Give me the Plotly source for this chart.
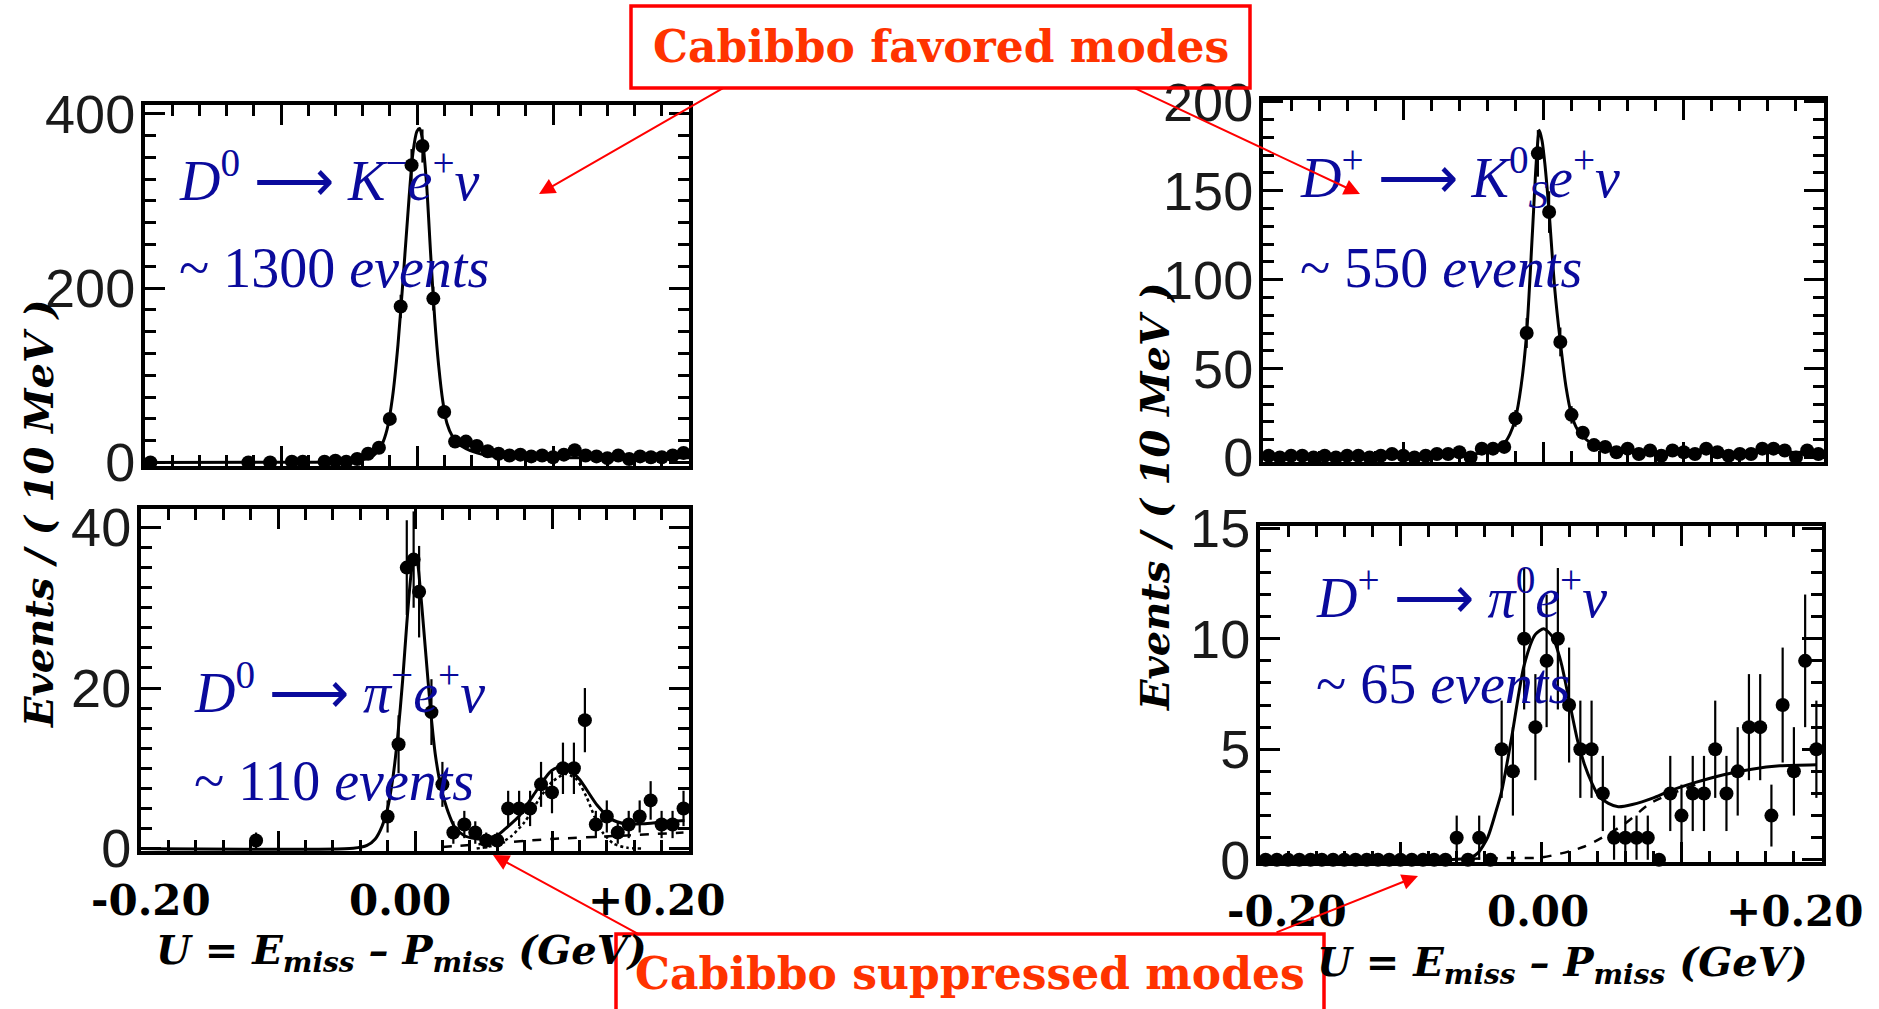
import plotly.graph_objects as go

W, H = 1879, 1009

# ---------------- data ----------------
# Top-left: D0 -> K- e+ nu
tl_x = [-0.196, -0.124, -0.108, -0.092, -0.084, -0.068, -0.060, -0.052, -0.044, -0.036,
        -0.028, -0.020, -0.012, -0.004, 0.004, 0.012, 0.020, 0.028, 0.036, 0.044, 0.052,
        0.060, 0.068, 0.076, 0.084, 0.092, 0.100, 0.108, 0.116, 0.124, 0.132, 0.140,
        0.148, 0.156, 0.164, 0.172, 0.180, 0.188, 0.196]
tl_y = [0, 0, 0, 1, 1, 1, 2, 1, 4, 10, 17, 50, 179, 341, 363, 188, 58, 24, 24, 19, 13,
        10, 8, 9, 7, 8, 6, 9, 14, 8, 7, 5, 8, 4, 7, 6, 6, 8, 11]
tl_err = [0, 0, 0, 1, 1, 1, 1.4, 1, 2, 3.2, 4.1, 7.1, 13.4, 18.5, 19, 13.7, 7.6, 4.9, 4.9, 4.4, 3.6,
          3.2, 2.8, 3, 2.6, 2.8, 2.4, 3, 3.7, 2.8, 2.6, 2.2, 2.8, 2, 2.6, 2.4, 2.4, 2.8, 3.3]
tl_fit_x = [-0.2, -0.08, -0.05, -0.04, -0.032, -0.026, -0.022, -0.018, -0.014, -0.010, -0.006,
            -0.003, 0.0, 0.002, 0.004, 0.007, 0.010, 0.013, 0.016, 0.019, 0.022, 0.026, 0.030,
            0.036, 0.044, 0.052, 0.065, 0.09, 0.2]
tl_fit_y = [0, 0.3, 1.5, 3, 8, 20, 38, 75, 135, 215, 300, 355, 380, 383, 370, 320, 240, 165,
            110, 70, 45, 30, 22, 16, 11, 8, 6, 5.5, 5.5]

# Bottom-left: D0 -> pi- e+ nu
bl_x = [-0.116, -0.020, -0.012, -0.006, -0.001, 0.003, 0.012, 0.020, 0.028, 0.036, 0.044,
        0.052, 0.060, 0.068, 0.076, 0.084, 0.092, 0.100, 0.108, 0.116, 0.124, 0.132, 0.140,
        0.148, 0.156, 0.164, 0.172, 0.180, 0.188, 0.196]
bl_y = [1, 4, 13, 35, 36, 32, 17, 8, 2, 3, 2, 1, 1, 5, 5, 5, 8, 7, 10, 10, 16, 3, 4, 2, 3,
        4, 6, 3, 3, 5]
bl_err = [1, 2, 3.6, 5.9, 6, 5.7, 4.1, 2.8, 1.4, 1.7, 1.4, 1, 1, 2.2, 2.2, 2.2, 2.8, 2.6, 3.2,
          3.2, 4, 1.7, 2, 1.4, 1.7, 2, 2.4, 1.7, 1.7, 2.2]
bl_fit_x = [-0.2, -0.045, -0.035, -0.029, -0.024, -0.020, -0.016, -0.0126, -0.009, -0.006,
            -0.003, -0.001, 0.001, 0.004, 0.008, 0.0115, 0.015, 0.0192, 0.0243, 0.0293, 0.036,
            0.046, 0.0594, 0.0661, 0.0762, 0.0862, 0.0996, 0.1096, 0.1197, 0.133, 0.143,
            0.153, 0.1665, 0.18, 0.1967]
bl_fit_y = [0, 0.05, 0.4, 1.2, 2.8, 5, 9, 14, 21, 28, 34, 36.5, 36.3, 32, 24, 17, 11.5, 7.5,
            4.5, 2.6, 1.6, 1.2, 1.6, 2.5, 4.1, 6.6, 9.7, 10.3, 8.7, 5.4, 3.7, 3.1, 3.1, 3.3, 3.5]
bl_dot_x = [0.045, 0.06, 0.07, 0.08, 0.09, 0.10, 0.11, 0.118, 0.125, 0.131, 0.137, 0.145,
            0.155, 0.165]
bl_dot_y = [0.0, 0.5, 1.5, 3.3, 6.0, 8.3, 9.3, 8.6, 6.5, 4.0, 2.0, 0.6, 0.1, 0.0]
bl_bkg_x = [0.02, 0.06, 0.10, 0.15, 0.196]
bl_bkg_y = [0.2, 0.7, 1.2, 1.6, 2.0]

# Shared binning for the D+ panels
dp_x = [-0.196, -0.188, -0.180, -0.172, -0.164, -0.156, -0.148, -0.140, -0.132, -0.124,
        -0.116, -0.108, -0.100, -0.092, -0.084, -0.076, -0.068, -0.060, -0.052, -0.044,
        -0.036, -0.028, -0.020, -0.012, -0.004, 0.004, 0.012, 0.020, 0.028, 0.036, 0.044,
        0.052, 0.060, 0.068, 0.076, 0.084, 0.092, 0.100, 0.108, 0.116, 0.124, 0.132, 0.140,
        0.148, 0.156, 0.164, 0.172, 0.180, 0.188, 0.196]

# Top-right: D+ -> KS0 e+ nu
tr_y = [1, 0, 1, 1, 0, 1, 0, 1, 1, 0, 1, 2, 1, 0, 1, 2, 2, 3, 0, 5, 5, 6, 22, 70, 171, 138,
        65, 24, 14, 7, 6, 3, 5, 2, 4, 1, 4, 3, 2, 5, 3, 1, 2, 2, 5, 5, 4, 0, 4, 2]
tr_err = [1, 0, 1, 1, 0, 1, 0, 1, 1, 0, 1, 1.4, 1, 0, 1, 1.4, 1.4, 1.7, 0, 2.2, 2.2, 2.4, 4.7,
          8.4, 13.1, 11.7, 8.1, 4.9, 3.7, 2.6, 2.4, 1.7, 2.2, 1.4, 2, 1, 2, 1.7, 1.4, 2.2, 1.7,
          1, 1.4, 1.4, 2.2, 2.2, 2, 0, 2, 1.4]
tr_fit_x = [-0.2, -0.1, -0.06, -0.045, -0.035, -0.028, -0.024, -0.020, -0.016, -0.012, -0.008,
            -0.005, -0.003, -0.001, 0.001, 0.004, 0.008, 0.012, 0.016, 0.020, 0.024, 0.028,
            0.034, 0.040, 0.050, 0.070, 0.2]
tr_fit_y = [0.8, 1.0, 1.5, 2.5, 4.5, 8, 13, 22, 40, 70, 125, 168, 184, 178, 165, 138, 95, 65,
            40, 24, 16, 12, 8, 5.5, 3.8, 3.0, 3.0]

# Bottom-right: D+ -> pi0 e+ nu
br_y = [0, 0, 0, 0, 0, 0, 0, 0, 0, 0, 0, 0, 0, 0, 0, 0, 0, 1, 0, 1, 0, 5, 4, 10, 6, 9, 10, 7,
        5, 5, 3, 1, 1, 1, 1, 0, 3, 2, 3, 3, 5, 3, 4, 6, 6, 2, 7, 4, 9, 5]
br_err = [0, 0, 0, 0, 0, 0, 0, 0, 0, 0, 0, 0, 0, 0, 0, 0, 0, 1, 0, 1, 0, 2.2, 2, 3.2, 2.4, 3,
          3.2, 2.6, 2.2, 2.2, 1.7, 1, 1, 1, 1, 0, 1.7, 1.4, 1.7, 1.7, 2.2, 1.7, 2, 2.4, 2.4,
          1.4, 2.6, 2, 3, 2.2]
br_fit_x = [-0.2, -0.06, -0.05, -0.045, -0.038, -0.032, -0.028, -0.021, -0.012, -0.004, 0.002,
            0.008, 0.014, 0.0207, 0.026, 0.031, 0.036, 0.041, 0.048, 0.055, 0.065, 0.08, 0.091,
            0.11, 0.13, 0.15, 0.17, 0.196]
br_fit_y = [0, 0.02, 0.1, 0.3, 1.0, 2.2, 3.1, 5.5, 8.8, 10.2, 10.45, 10.1, 9.0, 7.0, 5.4, 4.3,
            3.5, 2.9, 2.55, 2.4, 2.5, 2.8, 3.1, 3.5, 3.85, 4.1, 4.25, 4.3]
br_bkg_x = [-0.05, -0.02, 0.0, 0.031, 0.059, 0.079, 0.11]
br_bkg_y = [0.05, 0.08, 0.1, 0.6, 1.6, 2.6, 3.4]

x_tick_text = ["-0.20", "0.00", "+0.20"]
y_title = "Events / ( 10 MeV )"
x_title = "U = E<sub>miss</sub> – P<sub>miss</sub> (GeV)"
ARROW = "⟶"
labels = {
    "tl": ["<i>D</i><sup>0</sup> " + ARROW + " <i>K</i><sup>−</sup><i>e</i><sup>+</sup><i>ν</i>",
           "~ 1300 <i>events</i>"],
    "bl": ["<i>D</i><sup>0</sup> " + ARROW + " <i>π</i><sup>−</sup><i>e</i><sup>+</sup><i>ν</i>",
           "~ 110 <i>events</i>"],
    "tr": ["<i>D</i><sup>+</sup> " + ARROW + " <i>K</i><sup>0</sup><sub><i>S</i></sub><i>e</i><sup>+</sup><i>ν</i>",
           "~ 550 <i>events</i>"],
    "br": ["<i>D</i><sup>+</sup> " + ARROW + " <i>π</i><sup>0</sup><i>e</i><sup>+</sup><i>ν</i>",
           "~ 65 <i>events</i>"],
}
box_texts = ["Cabibbo favored modes", "Cabibbo suppressed modes"]


def px(x):
    return x / W


def py(y):
    return 1 - y / H


fig = go.Figure()

panels = [
    # key, xaxis, yaxis, pixel frame (l, r, t, b), y range, dtick, minor dtick
    ("tl", "x", "y", (145, 689, 105, 466), [-4, 410], 200, 25),
    ("bl", "x2", "y2", (141, 689, 509, 851), [-0.3, 42.3], 20, 2.5),
    ("tr", "x3", "y3", (1263, 1824, 100, 462), [-2.5, 201], 50, 10),
    ("br", "x4", "y4", (1260, 1822, 526, 862), [-0.1, 15.1], 5, 1),
]

data_sets = {
    "tl": (tl_x, tl_y, tl_err, [(tl_fit_x, tl_fit_y, "solid")]),
    "bl": (bl_x, bl_y, bl_err, [(bl_bkg_x, bl_bkg_y, "dash"), (bl_dot_x, bl_dot_y, "dot"),
                                (bl_fit_x, bl_fit_y, "solid")]),
    "tr": (dp_x, tr_y, tr_err, [(tr_fit_x, tr_fit_y, "solid")]),
    "br": (dp_x, br_y, br_err, [(br_bkg_x, br_bkg_y, "dash"), (br_fit_x, br_fit_y, "solid")]),
}

layout_axes = {}
for key, xa, ya, (l, r, t, b), yr, dt, mdt in panels:
    xs, ys, es, curves = data_sets[key]
    for cx, cy, dash in curves:
        fig.add_trace(go.Scatter(x=cx, y=cy, xaxis=xa, yaxis=ya, mode="lines",
                                 line=dict(color="black", width=3 if dash == "solid" else 2.5,
                                           dash=dash, shape="spline", smoothing=0.7),
                                 cliponaxis=True, showlegend=False, hoverinfo="skip"))
    fig.add_trace(go.Scatter(x=xs, y=ys, xaxis=xa, yaxis=ya, mode="markers",
                             marker=dict(color="black", size=14),
                             error_y=dict(type="data", array=es, visible=True,
                                          color="black", thickness=2.2, width=0),
                             cliponaxis=False, showlegend=False))
    axname_x = "xaxis" + xa[1:]
    axname_y = "yaxis" + ya[1:]
    common = dict(showline=True, linewidth=4, linecolor="black", mirror="ticks",
                  ticks="inside", tickwidth=3, tickcolor="black", ticklen=20,
                  showgrid=False, zeroline=False, automargin=False)
    layout_axes[axname_x] = dict(common, domain=[px(l), px(r)], range=[-0.2, 0.2],
                                 anchor=ya, dtick=0.1, tick0=0, showticklabels=False,
                                 minor=dict(ticks="inside", ticklen=11, tickwidth=2.5,
                                            tickcolor="black", dtick=0.02))
    layout_axes[axname_y] = dict(common, domain=[py(b), py(t)], range=yr, anchor=xa,
                                 dtick=dt, tick0=0, ticklabelstandoff=-5,
                                 tickfont=dict(family="Liberation Sans", size=54, color="#1a1a1a"),
                                 minor=dict(ticks="inside", ticklen=11, tickwidth=2.5,
                                            tickcolor="black", dtick=mdt))

annotations = []
# x tick labels (placed under each bottom axis)
xtick_pos = [
    ([151, 400, 656], 900),
    ([1287, 1538, 1794], 911),
]
for xs_px, y_px in xtick_pos:
    for t, xp in zip(x_tick_text, xs_px):
        annotations.append(dict(text="<b>" + t + "</b>", x=px(xp), y=py(y_px), xref="paper",
                                yref="paper", showarrow=False, xanchor="center", yanchor="middle",
                                font=dict(family="DejaVu Serif", size=42, color="black")))
# x titles
for xp, yp in [(401, 952), (1562, 964)]:
    annotations.append(dict(text="<b><i>" + x_title + "</i></b>", x=px(xp), y=py(yp),
                            xref="paper", yref="paper", showarrow=False, xanchor="center",
                            yanchor="middle",
                            font=dict(family="DejaVu Serif", size=40, color="black")))
# y titles
for xp, yp in [(38, 514), (1154, 497)]:
    annotations.append(dict(text="<b><i>" + y_title + "</i></b>", x=px(xp), y=py(yp),
                            xref="paper", yref="paper", showarrow=False, textangle=-90,
                            xanchor="center", yanchor="middle",
                            font=dict(family="DejaVu Serif", size=40, color="black")))
# decay labels
blue = "#0a0a9c"
label_pos = {"tl": (177, 176, 268), "bl": (192, 688, 781), "tr": (1298, 177, 268),
             "br": (1314, 593, 684)}
for key, (xl, y1, y2) in label_pos.items():
    for txt, yy in zip(labels[key], (y1, y2)):
        annotations.append(dict(text=txt, x=px(xl), y=py(yy), xref="paper", yref="paper",
                                showarrow=False, xanchor="left", yanchor="middle",
                                font=dict(family="Liberation Serif", size=56, color=blue)))
# boxed captions
red_txt = "#ff3300"
for txt, (xc, yc) in zip(box_texts, [(941, 47), (970, 973)]):
    annotations.append(dict(text="<b>" + txt + "</b>", x=px(xc), y=py(yc), xref="paper",
                            yref="paper", showarrow=False, xanchor="center", yanchor="middle",
                            font=dict(family="DejaVu Serif", size=44, color=red_txt)))
# arrows: (head x, head y, tail dx, tail dy)
for hx, hy, dx, dy in [(539, 194, 186, -107), (1360, 194, -228, -107),
                       (493, 855, 147, 80), (1418, 876, -143, 57)]:
    annotations.append(dict(text="", x=px(hx), y=py(hy), xref="paper", yref="paper",
                            showarrow=True, ax=dx, ay=dy, axref="pixel", ayref="pixel",
                            arrowhead=2, arrowsize=1.6, arrowwidth=2, arrowcolor="#ff0000",
                            standoff=0))

shapes = [
    dict(type="rect", xref="paper", yref="paper", x0=px(631), x1=px(1250), y0=py(88), y1=py(6),
         line=dict(color="#ff0000", width=3.5), fillcolor="rgba(0,0,0,0)"),
    dict(type="rect", xref="paper", yref="paper", x0=px(616), x1=px(1324), y0=py(1030),
         y1=py(934), line=dict(color="#ff0000", width=3.5), fillcolor="rgba(0,0,0,0)"),
]

fig.update_layout(width=W, height=H, margin=dict(l=0, r=0, t=0, b=0),
                  paper_bgcolor="white", plot_bgcolor="white", showlegend=False,
                  annotations=annotations, shapes=shapes, **layout_axes)

fig.write_html("out.html")
